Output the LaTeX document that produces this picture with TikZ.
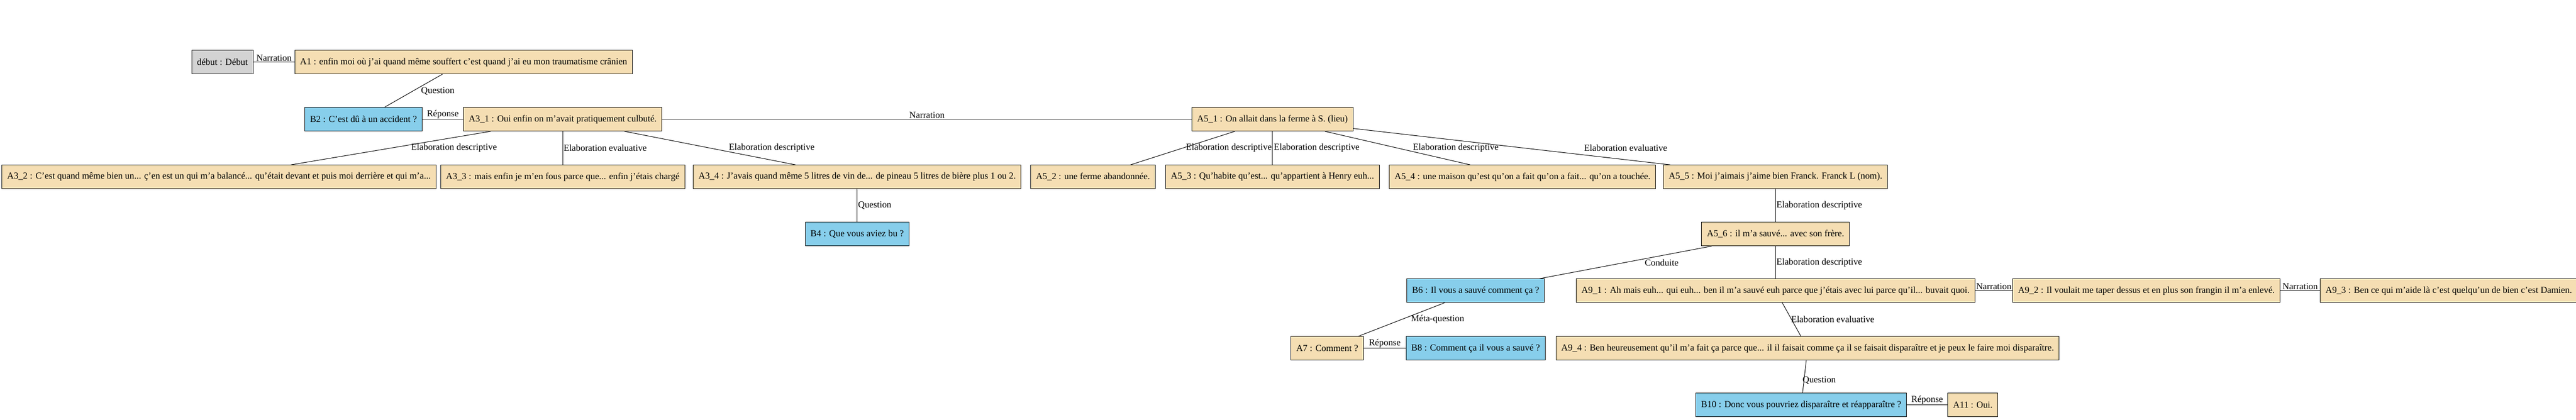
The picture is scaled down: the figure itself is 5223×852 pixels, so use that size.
\documentclass[tikz,border=0pt]{standalone}
\usepackage{fontspec}
\setmainfont[Ligatures=Common]{Liberation Serif}
\definecolor{wheat}{HTML}{F5DEB3}
\definecolor{skyblue}{HTML}{87CEEB}
\definecolor{greybox}{HTML}{D3D3D3}

\begin{document}
\begin{tikzpicture}[x=0.75pt, y=-0.75pt, line width=0.8pt,
  every node/.style={font=\fontsize{14}{16}\selectfont},
  abox/.style={draw, fill=wheat, minimum height=36pt, inner xsep=8pt, inner ysep=2pt},
  bbox/.style={abox, fill=skyblue},
  lbl/.style={inner sep=1pt}]

\useasboundingbox (0,0) rectangle (5223,852);

% first rows
\node[abox, fill=greybox] (debut) at (451,126) {début : Début};
\node[abox] (a1) at (940,126) {A1 : enfin moi où j'ai quand même souffert c'est quand j'ai eu mon traumatisme crânien};
\node[bbox] (b2) at (737,242) {B2 : C'est dû à un accident ?};
\node[abox] (a31) at (1141,242) {A3\_1 : Oui enfin on m’avait pratiquement culbuté.};
\node[abox] (a51) at (2580,242) {A5\_1 : On allait dans la ferme à S. (lieu)};

% elaborations
\node[abox] (a32) at (444,359) {A3\_2 : C’est quand même bien un...  ç'en est un qui m'a balancé... qu'était devant et puis moi derrière et qui m’a...};
\node[abox] (a33) at (1141,359) {A3\_3 : mais enfin je m’en fous parce que... enfin j'étais chargé};
\node[abox] (a34) at (1738,359) {A3\_4 : J'avais quand même 5 litres de vin de... de  pineau 5 litres de bière plus 1 ou 2.};
\node[abox] (a52) at (2216,359) {A5\_2 : une ferme abandonnée.};
\node[abox] (a53) at (2580,359) {A5\_3 : Qu’habite qu’est... qu’appartient à Henry euh...};
\node[abox] (a54) at (3087,359) {A5\_4 : une maison qu’est qu'on a fait qu'on a fait... qu’on a touchée.};
\node[abox] (a55) at (3600,359) {A5\_5 : Moi j'aimais j’aime bien Franck. Franck L (nom).};
\node[bbox] (b4) at (1738,475) {B4 : Que vous aviez bu ?};
\node[abox] (a56) at (3600,475) {A5\_6 : il m'a sauvé... avec son frère.};

% lower rows
\node[bbox] (b6) at (2992,590) {B6 : Il vous a sauvé comment ça ?};
\node[abox] (a91) at (3600,590) {A9\_1 : Ah mais euh... qui euh... ben il m'a sauvé euh parce que j'étais avec lui parce qu'il... buvait quoi.};
\node[abox] (a92) at (4352,590) {A9\_2 : Il voulait me taper dessus et en plus son frangin il m'a enlevé.};
\node[abox] (a93) at (4965,590) {A9\_3 : Ben ce qui m'aide là c'est quelqu'un de bien c'est Damien.};
\node[abox] (a7) at (2691,707) {A7 : Comment ?};
\node[bbox] (b8) at (2992,707) {B8 : Comment ça il vous a sauvé ?};
\node[abox] (a94) at (3665,707) {A9\_4 : Ben heureusement qu'il m'a fait ça parce que... il il faisait comme ça il se faisait disparaître et je peux le faire moi disparaître.};
\node[bbox] (b10) at (3652,822) {B10 : Donc vous pouvriez disparaître et réapparaître ?};
\node[abox] (a11) at (4000,822) {A11 : Oui.};

% relations
\draw (debut) -- (a1) node[lbl, midway, above] {Narration};
\draw (a1) -- (b2) node[lbl, anchor=west] at (852,185) {Question};
\draw (b2) -- (a31) node[lbl, midway, above] {Réponse};
\draw (a31) -- (a51) node[lbl, midway, above] {Narration};
\draw (a31) -- (a32) node[lbl, anchor=west] at (832,300) {Elaboration descriptive};
\draw (a31) -- (a33) node[lbl, anchor=west] at (1141,300) {Elaboration evaluative};
\draw (a31) -- (a34) node[lbl, anchor=west] at (1476,300) {Elaboration descriptive};
\draw (a34) -- (b4) node[lbl, anchor=west] at (1738,417) {Question};
\draw (a51) -- (a52) node[lbl, anchor=west] at (2403,300) {Elaboration descriptive};
\draw (a51) -- (a53) node[lbl, anchor=west] at (2581,300) {Elaboration descriptive};
\draw (a51) -- (a54) node[lbl, anchor=west] at (2863,300) {Elaboration descriptive};
\draw (a51) -- (a55) node[lbl, anchor=west] at (3210,300) {Elaboration evaluative};
\draw (a55) -- (a56) node[lbl, anchor=west] at (3600,417) {Elaboration descriptive};
\draw (a56) -- (b6) node[lbl, anchor=west] at (3333,533) {Conduite};
\draw (a56) -- (a91) node[lbl, anchor=west] at (3600,533) {Elaboration descriptive};
\draw (a91) -- (a92) node[lbl, midway, above] {Narration};
\draw (a92) -- (a93) node[lbl, midway, above] {Narration};
\draw (b6) -- (a7) node[lbl, anchor=west] at (2859,648) {Méta-question};
\draw (a7) -- (b8) node[lbl, midway, above] {Réponse};
\draw (a91) -- (a94) node[lbl, anchor=west] at (3630,648) {Elaboration evaluative};
\draw (a94) -- (b10) node[lbl, anchor=west] at (3653,772) {Question};
\draw (b10) -- (a11) node[lbl, midway, above] {Réponse};

\end{tikzpicture}
\end{document}
